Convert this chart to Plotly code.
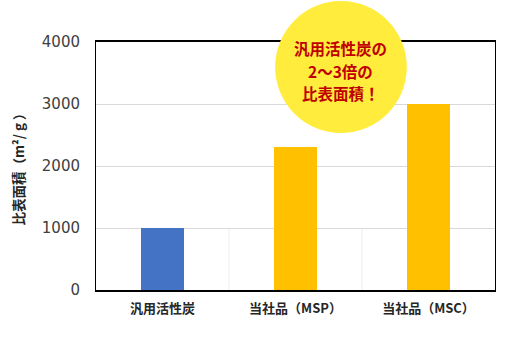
import plotly.graph_objects as go

categories = ["汎用活性炭", "当社品（MSP）", "当社品（MSC）"]
values = [1000, 2300, 3000]
bar_colors = ["#4472C4", "#FFC000", "#FFC000"]
y_ticks = [0, 1000, 2000, 3000, 4000]
y_title = "比表面積（m²/ g ）"
callout_lines = ["汎用活性炭の", "2～3倍の", "比表面積！"]

fig = go.Figure()
fig.add_trace(go.Bar(x=categories, y=values, marker_color=bar_colors,
                     marker_line_width=0, width=0.316))

# faint category separators
for xv in [0.5, 1.5]:
    fig.add_shape(type="line", xref="x", yref="y", x0=xv, x1=xv, y0=0, y1=1000,
                  line=dict(color="#EDEDED", width=1), layer="below")

fig.add_shape(type="circle", xref="paper", yref="paper",
              x0=0.449, x1=0.779, y0=0.633, y1=1.165,
              fillcolor="#FFEC3D", line_width=0, layer="above")
for line_text, yp in zip(callout_lines, [0.974, 0.883, 0.794]):
    fig.add_annotation(xref="paper", yref="paper", x=0.614, y=yp,
                       text=line_text, showarrow=False,
                       font=dict(family="Noto Sans CJK JP", size=15.5, color="#C00000", weight="bold"),
                       align="center", xanchor="center", yanchor="middle")

fig.update_layout(
    width=509, height=341,
    margin=dict(l=96, r=14, t=42, b=51),
    plot_bgcolor="white", paper_bgcolor="white",
    showlegend=False, bargap=0,
    font=dict(family="Noto Sans CJK JP"),
)
fig.update_xaxes(
    type="category", showline=True, linecolor="black", linewidth=1.5, mirror=True,
    showgrid=False, ticks="", ticklabelstandoff=6,
    tickfont=dict(family="Noto Sans CJK JP", size=13, color="#262626", weight="bold"),
)
fig.update_yaxes(
    range=[0, 4000], tickvals=y_ticks, showline=True, linecolor="black", linewidth=1,
    mirror=True, showgrid=True, gridcolor="#D9D9D9", gridwidth=1, zeroline=False,
    tickfont=dict(family="DejaVu Sans", size=15, color="#404040"), ticks="",
    ticklabelstandoff=12,
    title=dict(text=y_title, font=dict(family="Noto Sans CJK JP", size=13.5, color="#262626", weight="bold"),
               standoff=14),
)
fig.write_html("out.html")
